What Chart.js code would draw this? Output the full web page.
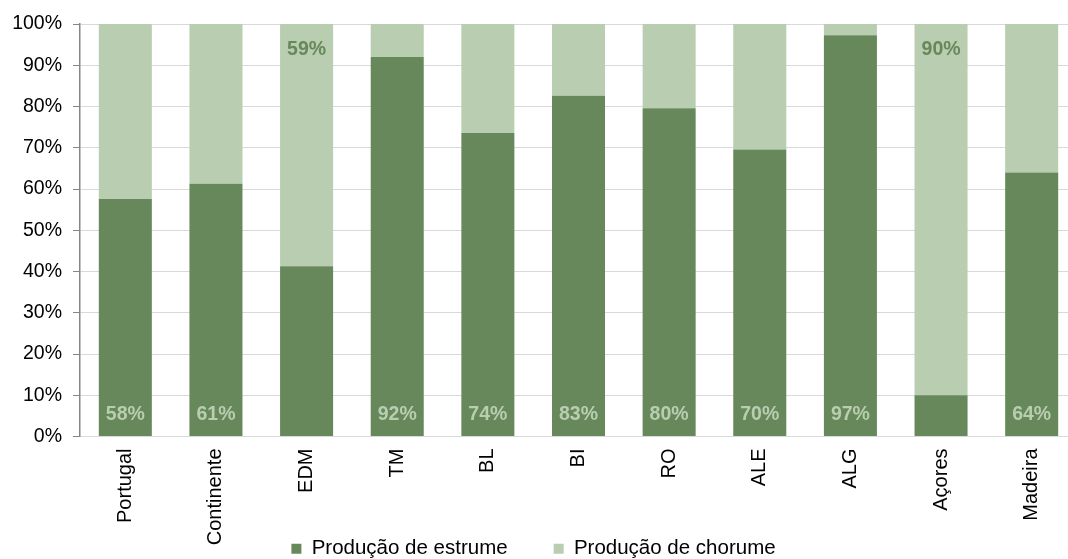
<!DOCTYPE html>
<html><head><meta charset="utf-8">
<script src="https://cdn.jsdelivr.net/npm/chart.js@4/dist/chart.umd.min.js"></script>
<style>
html,body{margin:0;padding:0;width:1068px;height:559px;overflow:hidden;background:#fff;}
#wrap{position:absolute;left:-10px;top:0;width:1088px;height:569px;}
</style></head><body>
<div id="wrap"><canvas id="c" width="1088" height="569"></canvas></div>
<script>
const categories = ["Portugal","Continente","EDM","TM","BL","BI","RO","ALE","ALG","Açores","Madeira"];
const estrume = [57.6, 61.3, 41.3, 92.0, 73.6, 82.6, 79.6, 69.6, 97.3, 10.0, 64.0];
const chorume = [42.4, 38.7, 58.7, 8.0, 26.4, 17.4, 20.4, 30.4, 2.7, 90.0, 36.0];
const seriesNames = ["Produção de estrume", "Produção de chorume"];
const yTickValues = [0,10,20,30,40,50,60,70,80,90,100];

const DARK = '#66885a';
const LIGHT = '#b9cdb0';
const FONT = '"Liberation Sans", Arial, sans-serif';

const labelPlugin = {
  id: 'barLabels',
  afterDatasetsDraw(chart) {
    const ctx = chart.ctx;
    ctx.save();
    ctx.font = 'bold 19.5px ' + FONT;
    ctx.textAlign = 'center';
    ctx.textBaseline = 'middle';
    categories.forEach((c, i) => {
      const vals = [estrume[i], chorume[i]];
      const k = vals[0] >= vals[1] ? 0 : 1;
      const bar = chart.getDatasetMeta(k).data[i];
      const ty = k === 0 ? bar.base - 21 : bar.y + 26;
      ctx.fillStyle = k === 0 ? LIGHT : DARK;
      ctx.fillText(Math.round(vals[k]) + '%', bar.x, ty);
    });
    ctx.restore();
  }
};

new Chart(document.getElementById('c'), {
  type: 'bar',
  data: {
    labels: categories,
    datasets: [
      { label: seriesNames[0], data: estrume, backgroundColor: DARK, barPercentage: 0.585, categoryPercentage: 1 },
      { label: seriesNames[1], data: chorume, backgroundColor: LIGHT, barPercentage: 0.585, categoryPercentage: 1 }
    ]
  },
  options: {
    responsive: false,
    animation: false,
    devicePixelRatio: 1,
    layout: { padding: { top: 24, right: 1, left: 0, bottom: 0 } },
    plugins: {
      tooltip: { enabled: false },
      legend: {
        position: 'bottom',
        labels: {
          boxWidth: 10, boxHeight: 10, padding: 46,
          color: '#000', font: { family: FONT, size: 20.5 }
        }
      }
    },
    scales: {
      x: {
        stacked: true,
        grid: { display: false, drawTicks: false },
        border: { color: '#d9d9d9', width: 1 },
        ticks: {
          autoSkip: false, maxRotation: 90, minRotation: 90, padding: 12,
          color: '#000', font: { family: FONT, size: 20 }
        },
        afterFit(scale) {
          scale.height = 56;
          scale._computeLabelArea = () => undefined;
        }
      },
      y: {
        stacked: true,
        min: 0, max: 100,
        afterBuildTicks(scale) { scale.ticks = yTickValues.map(v => ({ value: v })); },
        grid: { color: '#d9d9d9', lineWidth: 1, tickColor: '#868686', tickLength: 7 },
        border: { color: '#868686', width: 1.5 },
        ticks: {
          padding: 11, color: '#000', font: { family: FONT, size: 19.5 },
          callback: v => v + '%'
        },
        afterFit(scale) { scale.width = 90; }
      }
    }
  },
  plugins: [labelPlugin]
});
</script>
</body></html>
